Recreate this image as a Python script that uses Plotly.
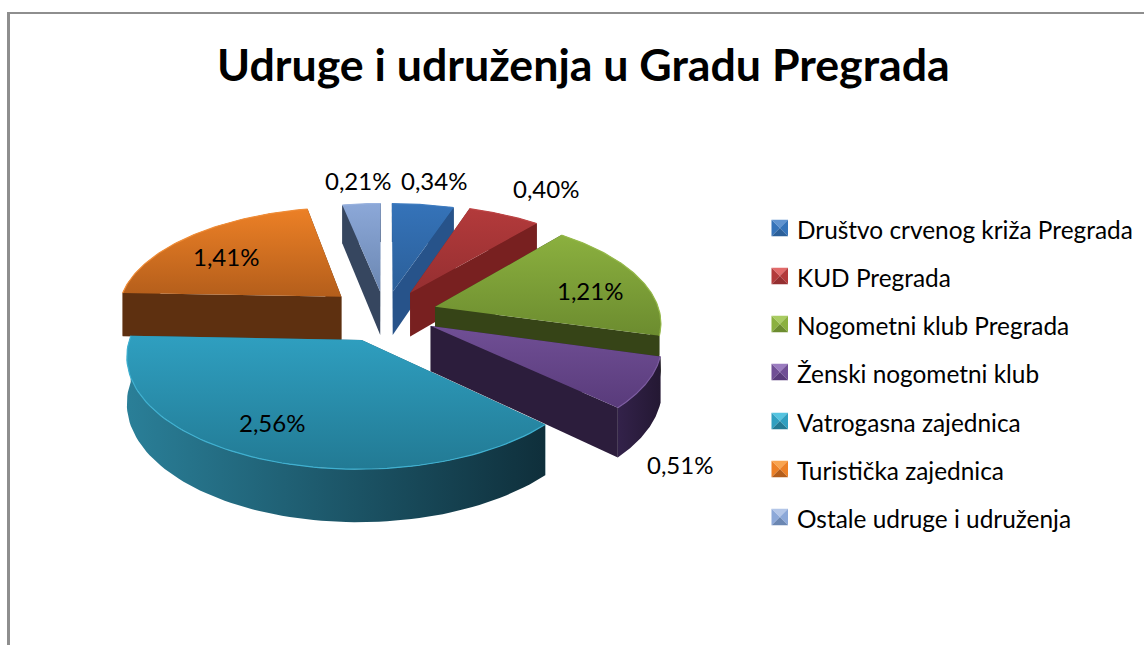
import numpy as np
import plotly.graph_objects as go

TITLE = "Udruge i udruženja u Gradu Pregrada"
CATEGORIES = ["Društvo crvenog križa Pregrada", "KUD Pregrada", "Nogometni klub Pregrada",
              "Ženski nogometni klub", "Vatrogasna zajednica", "Turistička zajednica",
              "Ostale udruge i udruženja"]
VALUES = [0.34, 0.40, 1.21, 0.51, 2.56, 1.41, 0.21]

# styles
TOP_A = ["#3573b9", "#b33a3b", "#8bb03f", "#704f95", "#2f9fc0", "#ec8026", "#8ca8d8"]
TOP_B = ["#2b5f99", "#952f31", "#6c8c2f", "#593b7b", "#227a94", "#b45e1b", "#6b87b2"]
WALL = ["#27538a", "#782020", "#364417", "#2c1d3c", "#1c5f75", "#5e3010", "#36465f"]
RIM_A = ["#27538a", "#782020", "#4a5e20", "#33224a", "#2a7f98", "#6c3812", "#36465f"]
RIM_B = ["#1e416c", "#5e1919", "#2c3813", "#241833", "#0f2f3b", "#4f280d", "#2a374b"]
EDGE = ["#3f7cc0", "#bd4546", "#97bb4c", "#7c5ca0", "#3fb0d0", "#f08d38", "#98b2df"]
SWATCH_TOP = ["#5f93d0", "#e26a6a", "#a9cc62", "#9b7cc0", "#55c4e0", "#f9a44f", "#b3c6e8"]

# projection of the exploded disc onto the page
CX, CY, RX, RY, PERSP, DEPTH = 385, 314, 225, 105, 0.13, 44.5
PULL = [0.22, 0.235, 0.235, 0.23, 0.26, 0.26, 0.22]

# text placement on the page
LABEL_XY = [(434, 180), (546, 188), (590, 290), (680, 464), (272, 422), (226, 256), (358, 180)]
LEGEND_X, LEGEND_TEXT_X, LEGEND_SIZE = 771.5, 795, 16.5
LEGEND_Y = [229, 277, 325, 373, 422, 470, 518]


def project(u, v, drop=0.0):
    w = 1 - PERSP * v
    return CX + RX * u / w, CY + (RY * v + drop) / w


def face(i, ou, ov, a):
    cu, cv = ou + np.sin(a), ov - np.cos(a)
    x0, y0 = project(ou, ov)
    x1, y1 = project(cu, cv)
    x2, y2 = project(cu, cv, DEPTH)
    x3, y3 = project(ou, ov, DEPTH)
    fig.add_trace(go.Scatter(x=[x0, x1, x2, x3, x0], y=[y0, y1, y2, y3, y0], mode="lines",
                             fill="toself", fillcolor=WALL[i], line=dict(width=0),
                             hoverinfo="skip", showlegend=False))


def faces_viewer(ou, ov, a, mid):
    """A cut face looks at the viewer when the wedge lies above its top edge on the page."""
    x0, y0 = project(ou, ov)
    x1, y1 = project(ou + np.sin(a), ov - np.cos(a))
    xm, ym = project(ou + 0.5 * np.sin(mid), ov - 0.5 * np.cos(mid))
    if abs(x1 - x0) < 1e-6:
        return True
    return ym < y0 + (y1 - y0) * (xm - x0) / (x1 - x0)


fig = go.Figure()
total = sum(VALUES)
edges = np.concatenate([[0], np.cumsum(VALUES)]) / total * 2 * np.pi
draw_order = [6, 0, 1, 5, 2, 3, 4]

for i in draw_order:
    a0, a1 = edges[i], edges[i + 1]
    mid = (a0 + a1) / 2
    ou, ov = PULL[i] * np.sin(mid), -PULL[i] * np.cos(mid)
    th = np.linspace(a0, a1, 80)
    arc_u, arc_v = ou + np.sin(th), ov - np.cos(th)

    front = [a for a in (a0, a1) if faces_viewer(ou, ov, a, mid)]
    back = [a for a in (a0, a1) if a not in front]
    for a in back:
        face(i, ou, ov, a)
    # outer rim
    tx, ty = project(arc_u, arc_v)
    bx, by = project(arc_u, arc_v, DEPTH)
    fig.add_trace(go.Scatter(x=np.concatenate([tx, bx[::-1], tx[:1]]),
                             y=np.concatenate([ty, by[::-1], ty[:1]]), mode="lines",
                             fill="toself", line=dict(width=0),
                             fillgradient=dict(type="horizontal",
                                               colorscale=[[0, RIM_A[i]], [1, RIM_B[i]]]),
                             hoverinfo="skip", showlegend=False))
    for a in front:
        face(i, ou, ov, a)
    # top surface (the gradient runs in data order, the y axis is reversed)
    ax, ay = project(ou, ov)
    fig.add_trace(go.Scatter(x=np.concatenate([[ax], tx, [ax]]), y=np.concatenate([[ay], ty, [ay]]),
                             mode="lines", fill="toself", name=CATEGORIES[i],
                             line=dict(width=0),
                             fillgradient=dict(type="vertical",
                                               colorscale=[[0, TOP_B[i]], [1, TOP_A[i]]]),
                             text=f"{VALUES[i]:.2f}%".replace(".", ","), hoverinfo="name+text",
                             showlegend=False))
    # highlight on the outer edge
    fig.add_trace(go.Scatter(x=tx, y=ty, mode="lines", line=dict(width=1.2, color=EDGE[i]),
                             hoverinfo="skip", showlegend=False))

annotations = [dict(x=583, y=64, text=f"<b>{TITLE}</b>", showarrow=False, xref="x", yref="y",
                    font=dict(family="Lato", size=44.7, color="#000000"))]
for (lx, ly), v in zip(LABEL_XY, VALUES):
    annotations.append(dict(x=lx, y=ly, text=f"{v:.2f}%".replace(".", ","), showarrow=False,
                            xref="x", yref="y", font=dict(family="Lato", size=24, color="#000000")))
shapes = [
    dict(type="line", x0=8.5, x1=8.5, y0=12, y1=645, line=dict(color="#8e8e8e", width=3), xref="x", yref="y"),
    dict(type="line", x0=8, x1=1144, y0=13, y1=13, line=dict(color="#8e8e8e", width=2), xref="x", yref="y"),
]
for i, (cat, ly) in enumerate(zip(CATEGORIES, LEGEND_Y)):
    annotations.append(dict(x=LEGEND_TEXT_X, y=ly, text=cat, showarrow=False, xref="x", yref="y",
                            xanchor="left", font=dict(family="Lato", size=24.4, color="#000000")))
    l, r = LEGEND_X, LEGEND_X + LEGEND_SIZE
    t, b = ly - 1 - LEGEND_SIZE / 2, ly - 1 + LEGEND_SIZE / 2
    mx, my = (l + r) / 2, (t + b) / 2
    tris = [(f"M{l},{t} L{r},{t} L{mx},{my} Z", SWATCH_TOP[i]),
            (f"M{r},{t} L{r},{b} L{mx},{my} Z", TOP_A[i]),
            (f"M{l},{b} L{r},{b} L{mx},{my} Z", TOP_B[i]),
            (f"M{l},{t} L{l},{b} L{mx},{my} Z", TOP_A[i])]
    for path, col in tris:
        shapes.append(dict(type="path", path=path, fillcolor=col, line=dict(width=0), xref="x", yref="y"))

fig.update_layout(
    width=1144, height=645, margin=dict(l=0, r=0, t=0, b=0),
    paper_bgcolor="#ffffff", plot_bgcolor="#ffffff", showlegend=False,
    xaxis=dict(range=[0, 1144], visible=False, fixedrange=True),
    yaxis=dict(range=[645, 0], visible=False, fixedrange=True),
    annotations=annotations, shapes=shapes,
)
fig.write_html("out.html", post_script="document.body.style.margin='0';", config={"displayModeBar": False})
